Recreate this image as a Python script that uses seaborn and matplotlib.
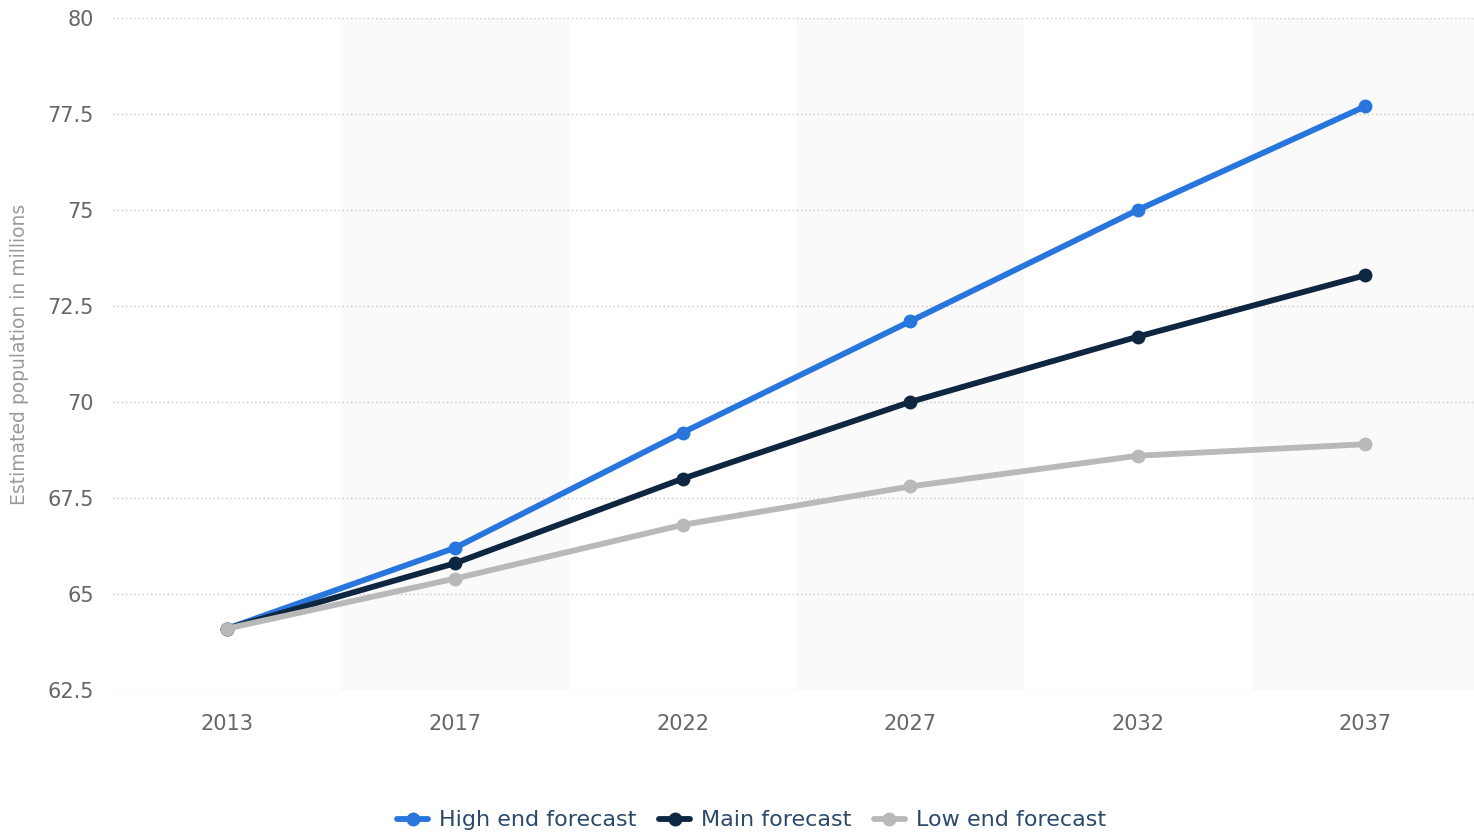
import matplotlib
matplotlib.use("Agg")
import matplotlib.pyplot as plt
import seaborn as sns
import pandas as pd
from matplotlib.lines import Line2D

years = ["2013", "2017", "2022", "2027", "2032", "2037"]
high_end = [64.1, 66.2, 69.2, 72.1, 75.0, 77.7]
main = [64.1, 65.8, 68.0, 70.0, 71.7, 73.3]
low_end = [64.1, 65.4, 66.8, 67.8, 68.6, 68.9]
series_names = ["High end forecast", "Main forecast", "Low end forecast"]
y_ticks = [62.5, 65, 67.5, 70, 72.5, 75, 77.5, 80]
y_tick_labels = ["62.5", "65", "67.5", "70", "72.5", "75", "77.5", "80"]

colors = ["#2876dd", "#0f2641", "#b9b9b9"]

df = pd.DataFrame({
    "year": years * 3,
    "value": high_end + main + low_end,
    "series": [series_names[0]] * 6 + [series_names[1]] * 6 + [series_names[2]] * 6,
})

sns.set_theme(style="white")
plt.rcParams["font.family"] = ["DejaVu Sans"]

fig = plt.figure(figsize=(14.74, 8.32), dpi=100)
ax = fig.add_axes([0.0770, 0.1707, 0.9265, 0.8077])

# alternating background bands
for i in range(len(years)):
    if i % 2 == 1:
        ax.axvspan(i - 0.5, i + 0.5, color="#fafafa", zorder=0, lw=0)

sns.lineplot(data=df, x="year", y="value", hue="series", hue_order=series_names,
             palette=colors, marker="o", markersize=10, markeredgewidth=0,
             linewidth=4.2, sort=False, legend=False, ax=ax, zorder=3)

ax.set_xlim(-0.5, len(years) - 0.5)
ax.set_ylim(62.5, 80)
ax.set_yticks(y_ticks)
ax.set_yticklabels(y_tick_labels)
ax.set_xticks(range(len(years)))
ax.set_xticklabels(years)

ax.grid(axis="y", color="#c8c8c8", linestyle=(0, (1, 2)), linewidth=1)
ax.grid(axis="x", visible=False)
ax.set_axisbelow(True)
for s in ax.spines.values():
    s.set_visible(False)

ax.tick_params(axis="both", length=0, labelsize=15, labelcolor="#666666")
ax.tick_params(axis="y", pad=14)
ax.tick_params(axis="x", pad=17)

ax.set_xlabel("")
ax.set_ylabel("Estimated population in millions", fontsize=13.5, color="#999999")
ax.yaxis.set_label_coords(-0.062, 0.5)

handles = [Line2D([0], [0], color=c, lw=4.2, marker="o", markersize=10, markeredgewidth=0)
           for c in colors]
fig.legend(handles, series_names, loc="lower center", bbox_to_anchor=(0.51, -0.022),
           ncol=3, frameon=False, fontsize=16, labelcolor="#2b4a6b",
           handlelength=1.4, handletextpad=0.5, columnspacing=1.0)

fig.savefig("out.png", dpi=100)
